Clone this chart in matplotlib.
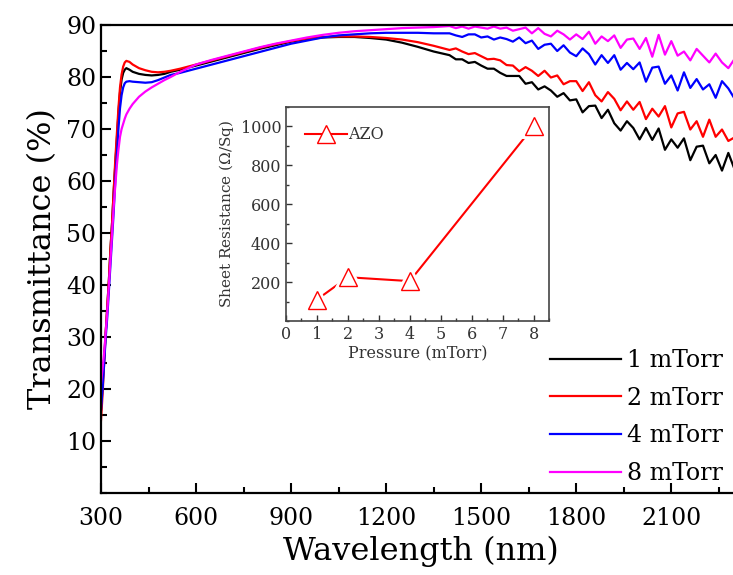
import numpy as np
import matplotlib
matplotlib.use('Agg')
import matplotlib.pyplot as plt
import matplotlib.ticker as mticker
import matplotlib.patheffects as pe

plt.rcParams['font.family'] = 'DejaVu Serif'
plt.rcParams['mathtext.fontset'] = 'dejavuserif'

# wavelength grid (nm)
wavelength = [300, 305, 310, 315, 320, 325, 330, 335, 340, 345, 350, 355, 360, 365, 370, 375, 380,
              390, 400, 420, 440, 460, 480, 500, 520,
              550, 600, 650, 700, 750, 800, 850, 900, 950, 1000, 1050, 1100, 1150, 1200, 1250, 1300, 1350,
              1400, 1420, 1440, 1460, 1480, 1500, 1520, 1540, 1560, 1580, 1600, 1620, 1640, 1660, 1680,
              1700, 1720, 1740, 1760, 1780, 1800, 1820, 1840, 1860, 1880, 1900, 1920, 1940, 1960, 1980,
              2000, 2020, 2040, 2060, 2080, 2100, 2120, 2140, 2160, 2180, 2200, 2220, 2240, 2260, 2280, 2300]

t_1mtorr = [16, 21, 26, 31, 36, 41, 47, 52, 58, 63, 68, 73, 77, 79.5, 80.8, 81.4, 81.7,
            81.4, 81.0, 80.6, 80.4, 80.3, 80.4, 80.6, 81.0,
            81.4, 82.2, 83.0, 83.8, 84.6, 85.4, 86.1, 86.8, 87.3, 87.6, 87.7, 87.7, 87.5, 87.2, 86.6, 85.8, 84.9,
            84.2, 83.4, 83.4, 82.7, 82.9, 82.2, 81.6, 81.6, 80.8, 80.2, 80.2, 80.2, 78.7, 79.0, 77.6,
            78.2, 77.4, 76.2, 76.9, 75.5, 75.7, 73.2, 74.4, 74.5, 72.1, 73.7, 71.1, 69.7, 71.5, 70.2,
            68.0, 70.2, 67.9, 70.1, 66.0, 68.0, 66.4, 68.2, 64.0, 66.6, 66.8, 63.4, 65.0, 62.0, 65.4, 62.2]

t_2mtorr = [14, 19, 25, 31, 36, 41, 47, 52, 58, 64, 69, 74, 78, 80.5, 82.0, 82.8, 83.1,
            82.9, 82.4, 81.7, 81.3, 81.0, 80.9, 81.0, 81.2,
            81.6, 82.4, 83.2, 84.0, 84.8, 85.6, 86.3, 86.9, 87.4, 87.7, 87.8, 87.8, 87.7, 87.5, 87.2, 86.7, 86.0,
            85.2, 85.5, 84.9, 84.4, 84.6, 84.0, 83.4, 83.5, 83.2, 82.3, 82.2, 81.1, 81.9, 81.2, 80.2,
            81.2, 79.9, 80.3, 78.6, 79.2, 79.2, 77.3, 79.0, 76.5, 75.3, 77.1, 75.8, 73.6, 75.3, 73.7,
            75.2, 71.9, 73.9, 72.4, 74.4, 70.3, 73.0, 73.3, 69.9, 71.5, 68.5, 71.8, 68.5, 69.9, 67.7, 68.4]

t_4mtorr = [16, 20, 25, 30, 34, 39, 44, 49, 54, 60, 65, 70, 74, 76.5, 78.0, 78.8, 79.1,
            79.2, 79.1, 79.0, 78.9, 79.0, 79.4, 79.9, 80.4,
            80.8, 81.6, 82.4, 83.2, 84.0, 84.8, 85.6, 86.4, 87.0, 87.6, 88.0, 88.2, 88.4, 88.5, 88.5, 88.5, 88.4,
            88.4, 88.0, 87.7, 88.2, 88.2, 87.6, 87.8, 87.2, 87.6, 87.3, 86.8, 87.6, 86.5, 87.0, 85.4,
            86.2, 86.4, 85.0, 86.1, 84.7, 84.0, 85.5, 84.4, 82.4, 84.2, 82.7, 84.2, 81.4, 82.7, 81.5,
            82.8, 79.1, 81.8, 82.0, 78.7, 80.3, 77.4, 80.9, 77.9, 79.6, 77.6, 78.6, 76.0, 79.2, 77.8, 75.8]

t_8mtorr = [21, 24, 27, 31, 35, 40, 45, 50, 55, 59, 63, 66, 68.5, 70, 71, 72, 72.8,
            73.9, 74.8, 76.2, 77.2, 78.0, 78.7, 79.4, 80.0,
            81.0, 82.4, 83.3, 84.1, 84.9, 85.7, 86.4, 87.0, 87.6, 88.1, 88.5, 88.8, 89.0, 89.2, 89.4, 89.5, 89.6,
            89.8, 89.4, 89.7, 89.3, 89.7, 89.5, 89.3, 89.7, 89.3, 89.5, 88.9, 89.2, 89.5, 88.4, 89.4,
            88.3, 87.8, 88.9, 88.2, 87.2, 88.2, 87.3, 88.7, 86.4, 87.8, 86.9, 88.0, 85.6, 87.2, 87.4,
            85.4, 87.5, 83.9, 88.1, 84.3, 86.9, 84.1, 84.9, 83.2, 85.4, 84.1, 82.8, 84.5, 82.8, 81.7, 83.5]

# inset: sheet resistance vs pressure
pressure = [1, 2, 4, 8]
sheet_res = [110, 225, 205, 1000]

fig = plt.figure(figsize=(7.33, 5.75), dpi=100)
ax = fig.add_axes([101/733, 82/575, 640/733, 468/575])

ax.plot(wavelength, t_1mtorr, color='black', lw=1.6, label='1 mTorr')
ax.plot(wavelength, t_2mtorr, color='red', lw=1.6, label='2 mTorr')
ax.plot(wavelength, t_4mtorr, color='blue', lw=1.6, label='4 mTorr')
ax.plot(wavelength, t_8mtorr, color='magenta', lw=1.6, label='8 mTorr')

ax.set_xlim(300, 2320)
ax.set_ylim(0, 90)
ax.set_xticks(range(300, 2101, 300))
ax.xaxis.set_minor_locator(mticker.MultipleLocator(150))
ax.set_yticks(range(10, 91, 10))
ax.yaxis.set_minor_locator(mticker.MultipleLocator(5))
ax.tick_params(which='both', direction='in', width=1.5, labelsize=17, top=False, right=False)
ax.tick_params(which='major', length=7)
ax.tick_params(which='minor', length=4)
ax.tick_params(axis='x', pad=10)
for s in ax.spines.values():
    s.set_linewidth(1.6)
ax.spines['right'].set_visible(False)

ax.set_xlabel('Wavelength (nm)', fontsize=23, labelpad=4)
ax.set_ylabel('Transmittance (%)', fontsize=23, labelpad=6)

leg = ax.legend(loc='lower right', bbox_to_anchor=(723/733, 90/575), bbox_transform=fig.transFigure,
                frameon=False, fontsize=17, handlelength=3.0, handletextpad=0.25,
                labelspacing=0.62, borderpad=0, borderaxespad=0)
for line in leg.get_lines():
    line.set_linewidth(1.6)

# inset
ins = fig.add_axes([286/733, 254/575, 263/733, 214/575])
gray = '#333333'
ins.plot(pressure, sheet_res, color='red', lw=1.5, marker='^', ms=13,
         mfc='white', mec='red', mew=1.0, label='AZO')
# redraw markers with a white halo so the line stops short of them
ins.plot(pressure, sheet_res, ls='none', marker='^', ms=13, mfc='white', mec='red', mew=1.0,
         path_effects=[pe.Stroke(linewidth=5, foreground='white'), pe.Normal()])
ins.set_xlim(0, 8.5)
ins.set_ylim(0, 1100)
ins.set_xticks(range(0, 9))
ins.xaxis.set_minor_locator(mticker.MultipleLocator(0.5))
ins.set_yticks(range(200, 1001, 200))
ins.yaxis.set_minor_locator(mticker.MultipleLocator(100))
ins.tick_params(which='both', direction='in', colors=gray, labelsize=11.5, top=False, right=False)
ins.tick_params(which='major', length=4, width=1)
ins.tick_params(which='minor', length=2, width=1)
for s in ins.spines.values():
    s.set_color('#444444')
    s.set_linewidth(1.2)
ins.set_xlabel('Pressure (mTorr)', fontsize=11.5, color=gray, labelpad=2)
ins.set_ylabel('Sheet Resistance ($\\Omega$/Sq)', fontsize=11, color=gray, labelpad=3)
ileg = ins.legend(loc='upper left', frameon=False, fontsize=11.5, handlelength=2.6,
                  handletextpad=0.1, borderaxespad=0.8, labelcolor=gray)

fig.savefig('out.png', dpi=100)
